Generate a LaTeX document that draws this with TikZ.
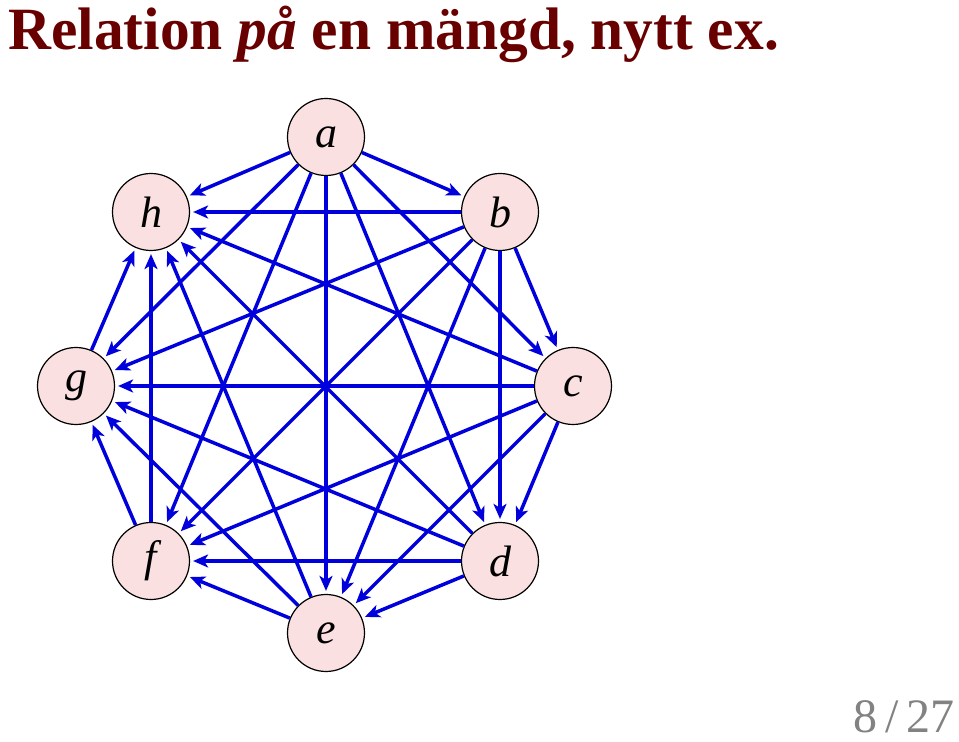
\documentclass[tikz,border=0pt]{standalone}
\usepackage{fontspec}
\setmainfont{Liberation Serif}
\usetikzlibrary{arrows.meta}
\definecolor{nodefill}{RGB}{250,224,224}
\definecolor{edgeblue}{RGB}{0,0,220}
\definecolor{titlered}{RGB}{105,0,0}
\definecolor{pagegray}{RGB}{130,130,130}
\tikzset{
  vtx/.style={circle,draw=black,line width=0.6pt,fill=nodefill,minimum size=38.5pt,inner sep=0pt,font=\fontsize{22}{26}\selectfont\itshape},
  rel/.style={draw=edgeblue,line width=1.75pt,-{Stealth[length=7.5pt,width=6.5pt,inset=2pt]},shorten >=1.5pt}
}
\begin{document}
\begin{tikzpicture}[x=0.5pt,y=-0.5pt]
\useasboundingbox (0,0) rectangle (959,742);
\node[anchor=base west,inner sep=0pt,text=titlered,font=\fontsize{30}{36}\selectfont\bfseries] (title) at (8,50) {\scalebox{0.99}[1]{Relation \textit{på} en mängd, nytt ex.}};
\node[anchor=base east,inner sep=0pt,text=pagegray,font=\fontsize{24}{28}\selectfont] (page) at (955,733) {8\,/\,27};
\node[vtx] (a) at (326,137) {a};
\node[vtx] (b) at (500,212) {b};
\node[vtx] (c) at (573,386) {c};
\node[vtx] (d) at (500,561) {d};
\node[vtx] (e) at (326,633) {e};
\node[vtx] (f) at (151,561) {f};
\node[vtx] (g) at (76,386) {g};
\node[vtx] (h) at (151,212) {h};
\foreach \s/\t in {a/b,a/c,a/d,a/e,a/f,a/g,a/h,
                   b/c,b/d,b/e,b/f,b/g,b/h,
                   c/d,c/e,c/f,c/g,c/h,
                   d/e,d/f,d/g,d/h,
                   e/f,e/g,e/h,
                   f/g,f/h,
                   g/h}
  \draw[rel] (\s) -- (\t);
\end{tikzpicture}
\end{document}
